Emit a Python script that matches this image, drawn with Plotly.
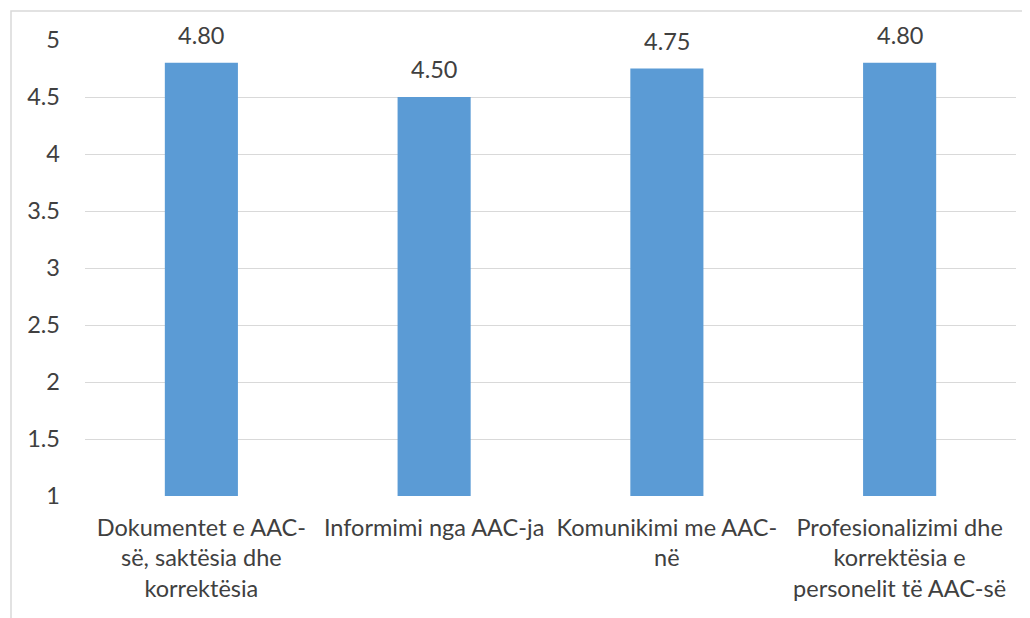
import plotly.graph_objects as go

categories = [
    "Dokumentet e AAC-<br>së, saktësia dhe<br>korrektësia",
    "Informimi nga AAC-ja",
    "Komunikimi me AAC-<br>në",
    "Profesionalizimi dhe<br>korrektësia e<br>personelit të AAC-së",
]
values = [4.80, 4.50, 4.75, 4.80]
value_labels = ["4.80", "4.50", "4.75", "4.80"]
y_ticks = [1, 1.5, 2, 2.5, 3, 3.5, 4, 4.5, 5]
y_tick_text = ["1", "1.5", "2", "2.5", "3", "3.5", "4", "4.5", "5"]

FONT = "Lato"
FS = 23.5
TXT = "#404040"
GRID = "#D9D9D9"

# page has 8px body margin; figure is placed at (8, 8)
W, H = 1022, 610
L, R, T, B = 77, 14, 32, 122
PW, PH = W - L - R, H - T - B

fig = go.Figure(go.Bar(
    x=categories, y=values, base=0,
    marker=dict(color="#5B9BD5", line=dict(width=0)),
    hoverinfo="x+y",
))

for c, v, t in zip(categories, values, value_labels):
    fig.add_annotation(x=c, y=v, text=t, showarrow=False, yanchor="bottom",
                       yshift=12, font=dict(family=FONT, size=FS, color=TXT))

fig.update_layout(
    width=W, height=H,
    margin=dict(l=L, r=R, t=T, b=B),
    paper_bgcolor="white", plot_bgcolor="white",
    bargap=0.686, showlegend=False,
    font=dict(family=FONT, size=FS, color=TXT),
    xaxis=dict(showgrid=False, showline=False, ticks="", tickfont=dict(size=FS, color=TXT),
               ticklabelstandoff=15),
    yaxis=dict(range=[1, 5], tickvals=y_ticks, ticktext=y_tick_text, showgrid=True,
               gridcolor=GRID, gridwidth=1, zeroline=False, showline=False, ticks="",
               tickfont=dict(size=FS, color=TXT), ticklabelstandoff=24),
    shapes=[dict(type="rect", xref="paper", yref="paper",
                 x0=(3 - L) / PW, x1=1.1, y0=-0.5, y1=(PH + T - 3) / PH,
                 line=dict(color=GRID, width=1.5), fillcolor="rgba(0,0,0,0)", layer="below")],
)

fig.write_html("out.html")
